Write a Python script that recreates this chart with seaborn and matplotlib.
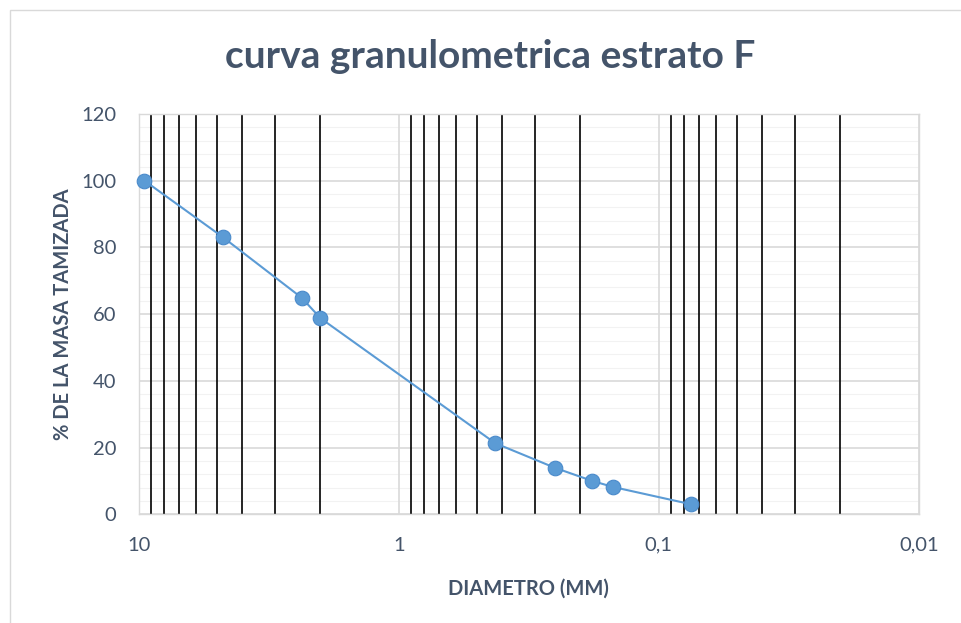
import matplotlib
matplotlib.use("Agg")
import matplotlib.pyplot as plt
import matplotlib.ticker as mticker
from matplotlib.patches import Rectangle
import seaborn as sns
import pandas as pd

# Data
diametro_mm = [9.5, 4.75, 2.36, 2.0, 0.425, 0.25, 0.18, 0.15, 0.075]
pasa_pct = [100, 83.1, 64.9, 58.8, 21.3, 13.9, 10.0, 8.2, 3.0]
x_tick_values = [10, 1, 0.1, 0.01]
x_tick_labels = ["10", "1", "0,1", "0,01"]
y_tick_values = [0, 20, 40, 60, 80, 100, 120]

title = "curva granulometrica estrato F"
x_title = "DIAMETRO (MM)"
y_title = "% DE LA MASA TAMIZADA"

sns.set_style("white")
plt.rcParams["font.family"] = ["Lato", "DejaVu Sans"]

text_col = "#44546A"
df = pd.DataFrame({"d": diametro_mm, "p": pasa_pct})

fig = plt.figure(figsize=(9.61, 6.23), dpi=100)
fig.patch.set_facecolor("white")
fig.patches.append(Rectangle((10 / 961, -0.1), 1.1, 1 - 10 / 623 + 0.1,
                             transform=fig.transFigure, fill=False,
                             edgecolor="#D9D9D9", linewidth=1.0))
ax = fig.add_axes([138.7 / 961, 108.7 / 623, 780 / 961, 400.3 / 623])

ax.set_xscale("log")
ax.set_xlim(10, 0.01)
ax.set_ylim(0, 120)

# grids
ax.xaxis.set_major_locator(mticker.FixedLocator(x_tick_values))
ax.xaxis.set_major_formatter(mticker.FixedFormatter(x_tick_labels))
ax.xaxis.set_minor_locator(mticker.LogLocator(base=10, subs=range(2, 10), numticks=20))
ax.xaxis.set_minor_formatter(mticker.NullFormatter())
ax.set_yticks(y_tick_values)
ax.yaxis.set_minor_locator(mticker.MultipleLocator(4))

ax.grid(which="major", axis="x", color="#D9D9D9", linewidth=1.2)
ax.grid(which="minor", axis="x", color="black", linewidth=1.2)
ax.grid(which="major", axis="y", color="#D9D9D9", linewidth=1.2)
ax.grid(which="minor", axis="y", color="#F2F2F2", linewidth=0.8)
ax.set_axisbelow(True)
ax.yaxis.set_zorder(0.3)
ax.xaxis.set_zorder(0.6)

for s in ax.spines.values():
    s.set_color("#D9D9D9")
    s.set_linewidth(1.0)

ax.tick_params(axis="x", which="major", length=0, pad=16, labelsize=14.5, labelcolor=text_col)
ax.tick_params(axis="x", which="minor", length=4, width=1, color="black", direction="out")
ax.tick_params(axis="y", which="both", length=0, pad=16, labelsize=14.5, labelcolor=text_col)

sns.lineplot(data=df, x="d", y="p", ax=ax, sort=False, color="#5B9BD5",
             linewidth=1.5, marker="o", markersize=10.5, markeredgecolor="#4A8ACB",
             markeredgewidth=0.8, zorder=5, clip_on=False)

ax.set_xlabel(x_title, fontsize=14.5, fontweight="bold", color=text_col, labelpad=18)
ax.set_ylabel(y_title, fontsize=14.5, fontweight="bold", color=text_col, labelpad=6)
fig.text(0.51, 1 - 56 / 623, title, ha="center", va="center", fontsize=28,
         fontweight="bold", color=text_col)

fig.savefig("out.png", dpi=100)
